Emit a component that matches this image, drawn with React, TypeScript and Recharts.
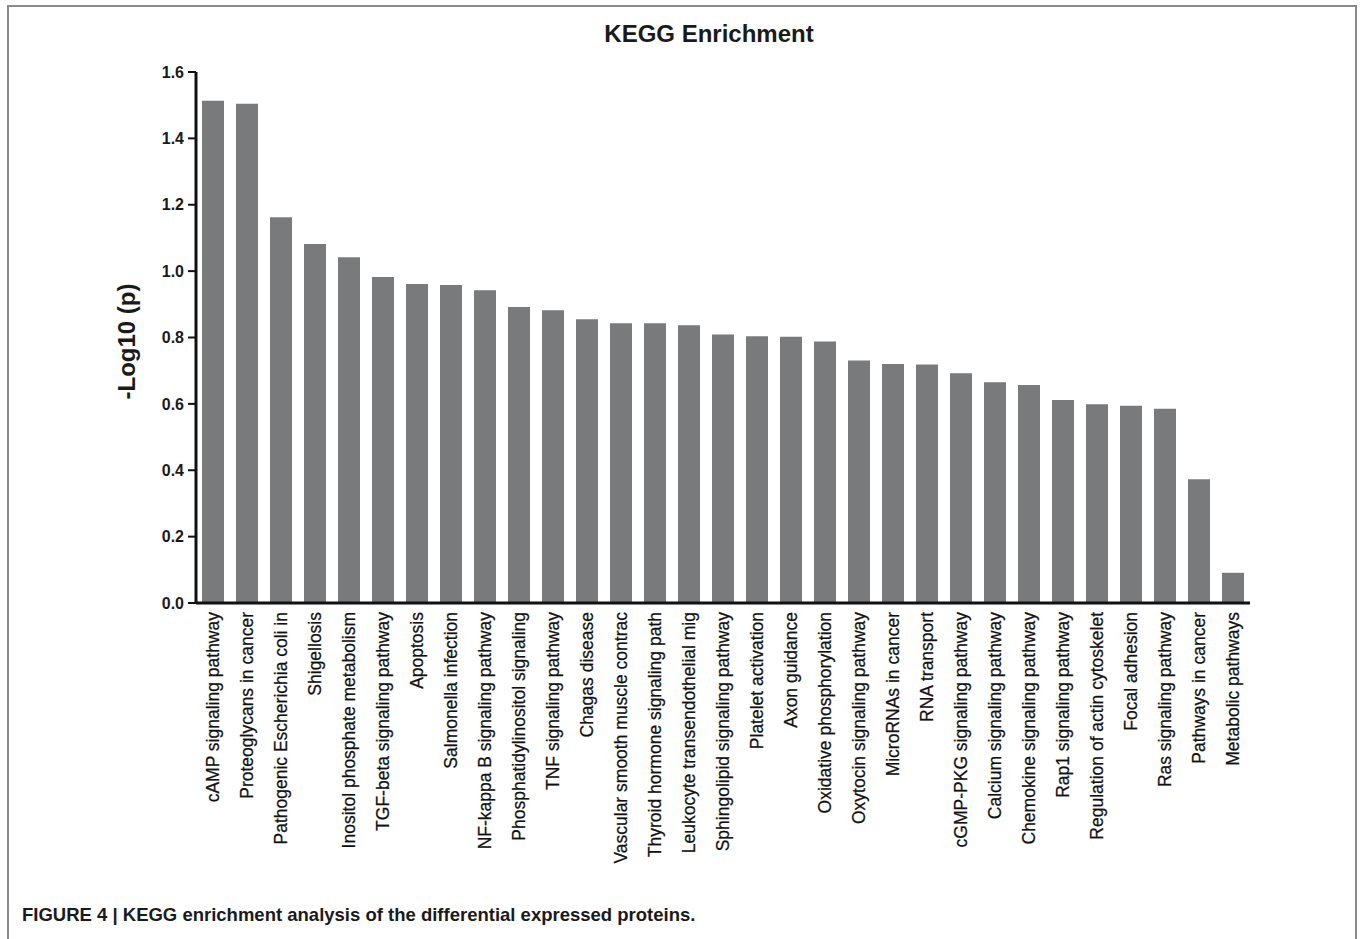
import { BarChart, Bar, XAxis, YAxis } from 'recharts'

const pathways = [
  'cAMP signaling pathway',
  'Proteoglycans in cancer',
  'Pathogenic Escherichia coli in',
  'Shigellosis',
  'Inositol phosphate metabolism',
  'TGF-beta signaling pathway',
  'Apoptosis',
  'Salmonella infection',
  'NF-kappa B signaling pathway',
  'Phosphatidylinositol signaling',
  'TNF signaling pathway',
  'Chagas disease',
  'Vascular smooth muscle contrac',
  'Thyroid hormone signaling path',
  'Leukocyte transendothelial mig',
  'Sphingolipid signaling pathway',
  'Platelet activation',
  'Axon guidance',
  'Oxidative phosphorylation',
  'Oxytocin signaling pathway',
  'MicroRNAs in cancer',
  'RNA transport',
  'cGMP-PKG signaling pathway',
  'Calcium signaling pathway',
  'Chemokine signaling pathway',
  'Rap1 signaling pathway',
  'Regulation of actin cytoskelet',
  'Focal adhesion',
  'Ras signaling pathway',
  'Pathways in cancer',
  'Metabolic pathways',
]

const negLogP = [
  1.513, 1.504, 1.162, 1.082, 1.042, 0.982, 0.961, 0.958, 0.942, 0.892,
  0.882, 0.855, 0.843, 0.843, 0.837, 0.809, 0.804, 0.802, 0.788, 0.731,
  0.72, 0.719, 0.692, 0.665, 0.657, 0.612, 0.599, 0.594, 0.585, 0.373,
  0.091,
]

const yTicks = [0, 0.2, 0.4, 0.6, 0.8, 1.0, 1.2, 1.4, 1.6]

const data = pathways.map((name, i) => ({ name, value: negLogP[i] }))

const font = 'Arial, "Liberation Sans", Helvetica, sans-serif'

function PathwayTick({ x, y, payload }: any) {
  return (
    <text
      x={x}
      y={y + 9}
      transform={`rotate(-90, ${x}, ${y + 9})`}
      textAnchor="end"
      dy="0.35em"
      fontSize={17.5}
      fontFamily={font}
      fill="#111"
      stroke="#111"
      strokeWidth={0.25}
    >
      {payload.value}
    </text>
  )
}

export default function App() {
  return (
    <div
      style={{
        position: 'absolute',
        left: 0,
        top: 0,
        width: 1360,
        height: 939,
        background: '#fff',
        overflow: 'hidden',
        fontFamily: font,
      }}
    >
      <div
        style={{
          position: 'absolute',
          left: 7,
          top: 5,
          width: 1350,
          height: 950,
          boxSizing: 'border-box',
          borderLeft: '2px solid #8a8a8a',
          borderTop: '2px solid #8a8a8a',
          borderRight: '2px solid #8a8a8a',
        }}
      />
      <div
        style={{
          position: 'absolute',
          left: 409,
          top: 21.7,
          width: 600,
          textAlign: 'center',
          fontSize: 24,
          lineHeight: 1,
          fontWeight: 'bold',
          color: '#1a1a1a',
        }}
      >
        KEGG Enrichment
      </div>
      <div style={{ position: 'absolute', left: 0, top: 0 }}>
        <BarChart
          width={1360}
          height={939}
          data={data}
          margin={{ top: 72, right: 110, bottom: 86, left: 116 }}
        >
          <XAxis
            dataKey="name"
            interval={0}
            height={250}
            tickLine={false}
            tickSize={0}
            tickMargin={0}
            axisLine={{ stroke: '#111', strokeWidth: 3 }}
            tick={<PathwayTick />}
          />
          <YAxis
            width={80}
            domain={[0, 1.6]}
            ticks={yTicks}
            tickFormatter={(v: number) => v.toFixed(1)}
            tickSize={8}
            tickMargin={4}
            tickLine={{ stroke: '#111', strokeWidth: 2 }}
            axisLine={{ stroke: '#111', strokeWidth: 3 }}
            tick={{ fontSize: 16, fontWeight: 'bold', fill: '#1a1a1a', fontFamily: font }}
            label={{
              value: '-Log10 (p)',
              angle: -90,
              position: 'center',
              dx: -30,
              dy: 4,
              style: { fontSize: 24, fontWeight: 'bold', fill: '#1a1a1a', fontFamily: font },
            }}
          />
          <Bar dataKey="value" fill="#797a7c" barSize={22} isAnimationActive={false} />
        </BarChart>
      </div>
      <div
        style={{
          position: 'absolute',
          left: 22,
          top: 906.3,
          fontSize: 18.5,
          lineHeight: 1,
          fontWeight: 'bold',
          color: '#1a1a1a',
          whiteSpace: 'nowrap',
        }}
      >
        FIGURE 4 | KEGG enrichment analysis of the differential expressed proteins.
      </div>
    </div>
  )
}
